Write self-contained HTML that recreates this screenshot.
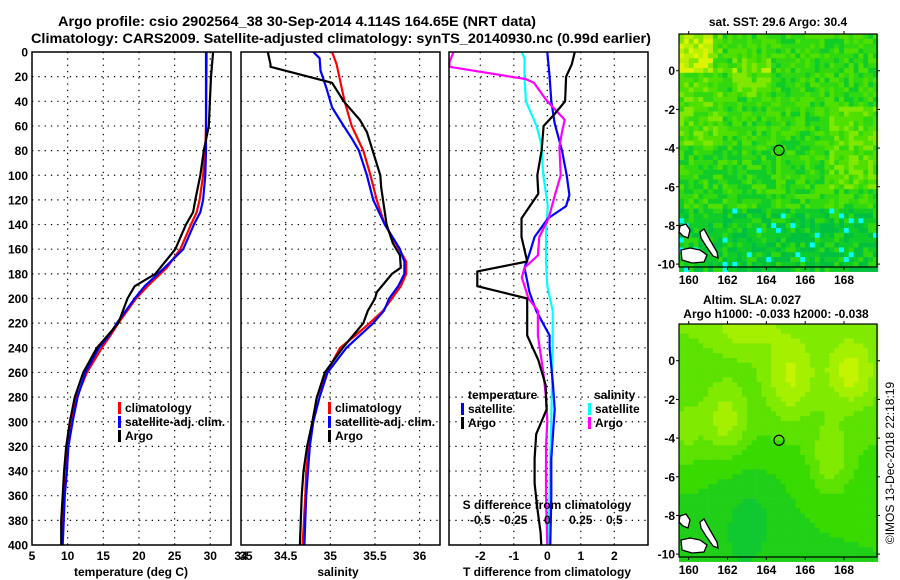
<!DOCTYPE html>
<html><head><meta charset="utf-8">
<style>
html,body{margin:0;padding:0;background:#fff;}
svg{display:block;font-family:"Liberation Sans",sans-serif;font-weight:bold;}
</style></head>
<body>
<svg id="chart" width="900" height="580" viewBox="0 0 900 580" xmlns="http://www.w3.org/2000/svg">
<rect width="900" height="580" fill="#fff"/>
<text x="297" y="26" font-size="14" text-anchor="middle" textLength="478" lengthAdjust="spacingAndGlyphs">Argo profile: csio 2902564_38 30-Sep-2014 4.114S 164.65E (NRT data)</text>
<text x="341" y="43" font-size="14" text-anchor="middle" textLength="620" lengthAdjust="spacingAndGlyphs">Climatology: CARS2009. Satellite-adjusted climatology: synTS_20140930.nc (0.99d earlier)</text>
<g id="g"></g>
</svg>
<script>
// ---- data ----
const tDepth_argo = [0,20,60,80,100,120,130,140,160,175,180,190,200,220,240,260,280,300,320,340,360,380,400];
const temp_argo   = [30.4,30.1,29.8,29.1,28.6,27.9,27.6,26.6,25.1,23.0,22.3,19.4,18.4,17.1,14.1,12.2,11.0,10.3,9.8,9.5,9.3,9.1,9.1];
const tDepth_clim = [0,60,80,100,120,130,140,160,175,190,200,220,230,240,260,280,300,320,340,360,400];
const temp_clim   = [29.5,29.4,29.3,29.0,28.5,28.1,27.3,25.8,23.9,21.2,19.6,17.1,16.0,14.8,12.7,11.3,10.5,9.9,9.6,9.4,9.2];
const temp_sat    = [29.4,29.4,29.4,29.3,29.0,28.6,27.7,26.2,23.6,20.8,19.4,16.9,15.8,14.4,12.5,11.4,10.7,10.1,9.9,9.6,9.3];

const sDepth_argo = [0,10,12,25,40,55,65,100,110,140,155,165,175,180,195,200,210,220,240,260,280,300,320,340,360,380,400];
const sal_argo    = [34.30,34.33,34.33,35.02,35.15,35.33,35.41,35.56,35.57,35.63,35.70,35.78,35.79,35.69,35.52,35.50,35.42,35.37,35.14,34.94,34.85,34.80,34.74,34.70,34.68,34.67,34.66];
const sDepth_clim = [0,10,40,60,80,100,120,140,160,170,180,190,200,210,220,230,240,260,280,300,320,340,360,400];
const sal_clim    = [35.02,35.07,35.16,35.24,35.37,35.45,35.52,35.61,35.77,35.85,35.85,35.79,35.69,35.59,35.44,35.28,35.11,34.96,34.85,34.80,34.76,34.73,34.72,34.69];
const sDepth_sat  = [0,5,15,30,45,60,70,80,100,120,140,160,170,180,190,200,210,220,240,260,280,300,320,360,400];
const sal_sat     = [34.81,34.88,34.89,34.96,35.02,35.15,35.24,35.32,35.41,35.48,35.61,35.78,35.83,35.83,35.76,35.66,35.60,35.48,35.18,34.97,34.88,34.81,34.77,34.73,34.71];

const dDepth_tArgo = [0,10,20,40,50,60,80,100,115,135,150,170,178,190,200,230,250,270,290,310,330,350,370,390,400];
const tdiff_argo   = [0.82,0.73,0.56,0.53,0.23,-0.11,-0.17,-0.30,-0.27,-0.77,-0.77,-0.60,-2.09,-2.09,-0.60,-0.60,-0.27,-0.05,-0.02,-0.33,-0.38,-0.38,-0.30,-0.20,-0.18];
const dDepth_tSat  = [0,20,40,58,80,100,116,125,135,150,165,175,195,210,230,240,270,290,310,330,360,400];
const tdiff_sat    = [0,0.07,0.12,0.22,0.44,0.58,0.66,0.56,0.02,-0.38,-0.55,-0.68,-0.53,-0.33,0.07,0.07,0.17,0.22,0.17,0.12,0.12,0.09];
const dDepth_sSat  = [0,5,20,40,60,75,100,115,125,145,170,190,210,240,300,340,400];
const sdiff_sat    = [-0.19,-0.17,-0.17,-0.16,-0.08,-0.045,-0.03,-0.01,0.004,-0.01,-0.01,0.00,0.04,0.04,0.03,0.02,0.01];
const dDepth_sArgo = [0,8,12,22,25,40,55,65,77,100,115,135,150,165,175,183,200,210,230,260,280,300,320,360,400];
const sdiff_argo   = [-0.70,-0.73,-0.73,-0.16,-0.10,0.00,0.13,0.11,0.09,0.10,0.06,0.01,-0.06,-0.07,-0.17,-0.19,-0.14,-0.07,-0.07,-0.03,-0.01,0.00,-0.01,-0.01,0.00];

const depthTicks = [0,20,40,60,80,100,120,140,160,180,200,220,240,260,280,300,320,340,360,380,400];
const tempTicks = [5,10,15,20,25,30,35];
const salTicks = [34,34.5,35,35.5,36];
const tdTicks = [-2,-1,0,1,2];
const sdTicks = [-0.5,-0.25,0,0.25,0.5];
const lonTicks = [160,162,164,166,168];
const latTicks = [0,-2,-4,-6,-8,-10];
const argoLon = 164.65, argoLat = -4.114;

// ---- helpers ----
const NS="http://www.w3.org/2000/svg";
const G=document.getElementById('g');
function mk(tag,at,parent){const e=document.createElementNS(NS,tag);for(const k in at)e.setAttribute(k,at[k]);(parent||G).appendChild(e);return e;}
const Y0=52,Y1=545;
const yD=d=>Y0+(d/400)*(Y1-Y0);
const P1={x0:32,x1:231,lo:5,hi:5+199/7.13};
const P2={x0:241,x1:440,lo:34,hi:34+199/89.3};
const P3={x0:449,x1:648,lo:(449-547.3)/33.5,hi:(648-547.3)/33.5};
const xs=(P,v)=>P.x0+(v-P.lo)/(P.hi-P.lo)*(P.x1-P.x0);

function panel(P,name){
  const g=mk('g',{});
  
  
  return g;
}
function grid(P,g,xticks,mapfn){
  depthTicks.forEach(d=>{ if(d>0&&d<400){const l=mk('line',{x1:P.x0,x2:P.x1,y1:yD(d),y2:yD(d),stroke:'#000','stroke-width':1.2,'stroke-dasharray':'1.3 5'},g);
    
    }});
  xticks.forEach(v=>{const x=mapfn(v); if(x>P.x0+1&&x<P.x1-1){const l=mk('line',{x1:x,x2:x,y1:Y0,y2:Y1,stroke:'#000','stroke-width':1.2,'stroke-dasharray':'1.3 5'},g);
    
    }});
}
function frame(P,g){
  const r=mk('rect',{x:P.x0,y:Y0,width:P.x1-P.x0,height:Y1-Y0,fill:'none',stroke:'#000','stroke-width':1.5},g);
  
  
}
function line(P,g,depths,vals,color,name,scale){
  const pts=depths.map((d,i)=>xs(P,vals[i]*(scale||1)).toFixed(1)+','+yD(d).toFixed(1)).join(' ');
  const pl=mk('polyline',{points:pts,fill:'none',stroke:color,'stroke-width':2.2,'stroke-linejoin':'round'},g);
  
  
}
function txt(s,x,y,opt,g,name){
  const t=mk('text',Object.assign({x:x,y:y,'font-size':12},opt||{}),g);
  t.textContent=s;
  
  
  return t;
}
function legendEntry(g,x,y,color,label){
  const m=mk('rect',{x:x,y:y-10,width:3,height:12,fill:color},g);
  
  
  txt(label,x+7,y,{'font-size':12},g,'legend-entry');
}

// y-axis labels
const ya=mk('g',{});


depthTicks.forEach(d=>txt(String(d),28,yD(d)+4.5,{'text-anchor':'end','font-size':12},ya,'depth-tick-label'));

// panel 1 temperature
const g1=panel(P1,'temperature-panel');
grid(P1,g1,tempTicks,v=>xs(P1,v));
line(P1,g1,tDepth_clim,temp_clim,'#f00','temp-climatology-line');
line(P1,g1,tDepth_clim,temp_sat,'#00f','temp-satellite-line');
line(P1,g1,tDepth_argo,temp_argo,'#000','temp-argo-line');
frame(P1,g1);
tempTicks.forEach(v=>txt(String(v),xs(P1,v),560,{'text-anchor':'middle'},g1,'temp-tick-label'));
txt('temperature (deg C)',131,576,{'text-anchor':'middle'},g1,'x-axis-title-temperature');
legendEntry(g1,118,412,'#f00','climatology');
legendEntry(g1,118,426,'#00f','satellite-adj. clim.');
legendEntry(g1,118,440,'#000','Argo');

// panel 2 salinity
const g2=panel(P2,'salinity-panel');
grid(P2,g2,salTicks,v=>xs(P2,v));
line(P2,g2,sDepth_clim,sal_clim,'#f00','sal-climatology-line');
line(P2,g2,sDepth_sat,sal_sat,'#00f','sal-satellite-line');
line(P2,g2,sDepth_argo,sal_argo,'#000','sal-argo-line');
frame(P2,g2);
salTicks.forEach(v=>txt(String(v),xs(P2,v),560,{'text-anchor':'middle'},g2,'sal-tick-label'));
txt('salinity',338,576,{'text-anchor':'middle'},g2,'x-axis-title-salinity');
legendEntry(g2,328,412,'#f00','climatology');
legendEntry(g2,328,426,'#00f','satellite-adj. clim.');
legendEntry(g2,328,440,'#000','Argo');

// panel 3 differences
const g3=panel(P3,'difference-panel');
grid(P3,g3,tdTicks,v=>xs(P3,v));
line(P3,g3,dDepth_sSat,sdiff_sat,'#0ff','sdiff-satellite-line',4);
line(P3,g3,dDepth_tSat,tdiff_sat,'#00f','tdiff-satellite-line');
line(P3,g3,dDepth_sArgo,sdiff_argo,'#f0f','sdiff-argo-line',4);
line(P3,g3,dDepth_tArgo,tdiff_argo,'#000','tdiff-argo-line');
frame(P3,g3);
tdTicks.forEach(v=>txt(String(v),xs(P3,v),560,{'text-anchor':'middle'},g3,'tdiff-tick-label'));
sdTicks.forEach(v=>txt(String(v),xs(P3,v*4),524,{'text-anchor':'middle'},g3,'sdiff-tick-label'));
txt('S difference from climatology',547,509,{'text-anchor':'middle'},g3,'sdiff-axis-title');
txt('T difference from climatology',547,576,{'text-anchor':'middle'},g3,'x-axis-title-tdiff');
txt('temperature',468,399,{},g3,'legend-title-temperature');
legendEntry(g3,461,413,'#00f','satellite');
legendEntry(g3,461,427,'#000','Argo');
txt('salinity',594,399,{},g3,'legend-title-salinity');
legendEntry(g3,588,413,'#0ff','satellite');
legendEntry(g3,588,427,'#f0f','Argo');

// ---- maps ----
const LON0=159.5,LON1=169.7,LAT0=1.9,LAT1=-10.15;
function hash(i,j,s){let h=(i*374761393+j*668265263+s*1442695041)|0;h=(h^(h>>>13))*1274126177|0;return ((h^(h>>>16))>>>0)/4294967295;}
function drawMap(top,name,kind){
  const mx0=679,mx1=877,my0=top,my1=top+233;
  const g=mk('g',{});
  
  
  const mX=lon=>mx0+(lon-LON0)/(LON1-LON0)*(mx1-mx0);
  const mY=lat=>my0+(lat-LAT0)/(LAT1-LAT0)*(my1-my0);
  const cells=mk('g',{},g);
  
  
  if(kind==='sst'){
    const pal=['#00c040','#10cc28','#30d810','#50e000','#80e800','#b8f000','#dcf400'];
    const cw=4.85;
    const nx=Math.ceil((mx1-mx0)/cw), ny=Math.ceil((my1-my0)/cw);
    for(let j=0;j<ny;j++)for(let i=0;i<nx;i++){
      const u=i/nx,v=j/ny;
      let base=2.2+(v<0.15&&u<0.15?2:0)+(v<0.45&&u<0.2?0.8:0)+(v>0.1&&v<0.25&&u>0.25&&u<0.45?1.2:0)+(u>0.75&&v>0.3&&v<0.65?1.0:0)-(v>0.72?1.3:0)-(v>0.45&&v<0.7&&u<0.6?0.4:0);
      if(v>0.72&&hash(i,j,7)>0.95){mk('rect',{x:mx0+i*cw,y:my0+j*cw,width:cw+0.3,height:cw+0.3,fill:'#00ffff'},cells);continue;}
      const val=base+(hash(i,j,1)-0.5)*2.4;
      const k=Math.max(0,Math.min(pal.length-1,Math.round(val)));
      mk('rect',{x:(mx0+i*cw).toFixed(2),y:(my0+j*cw).toFixed(2),width:cw+0.3,height:cw+0.3,fill:pal[k]},cells);
    }
  }else{
    const pal=['#10c830','#20d018','#38da00','#5ce200','#80ea00','#a4f000','#c4f400','#dcf800'];
    const cw=4.85;
    const nx=Math.ceil((mx1-mx0)/cw), ny=Math.ceil((my1-my0)/cw);
    const b=(x,y,cx,cy,sx,sy)=>Math.exp(-((x-cx)*(x-cx)/sx+(y-cy)*(y-cy)/sy));
    for(let j=0;j<ny;j++)for(let i=0;i<nx;i++){
      const u=i/nx,v=j/ny;
      let val=3.6-3.0*v+0.8*u*v
        +2.6*b(u,v,0.55,0.22,0.015,0.03)+2.8*b(u,v,0.85,0.2,0.015,0.02)+2.6*b(u,v,0.22,0.4,0.012,0.02)
        +2.2*b(u,v,0.75,0.55,0.008,0.02)+1.5*b(u,v,0.02,0.45,0.008,0.02)+1.8*b(u,v,0.32,0.0,0.02,0.01)
        -1.2*b(u,v,0.35,0.78,0.03,0.04);
      const k=Math.max(0,Math.min(pal.length-1,Math.round(val)));
      mk('rect',{x:(mx0+i*cw).toFixed(2),y:(my0+j*cw).toFixed(2),width:cw+0.3,height:cw+0.3,fill:pal[k]},cells);
    }
  }
  // islands
  const isl=[
    [[700,232],[704,229],[710,240],[717,252],[718,258],[713,256],[706,246],[701,238]],
    [[681,250],[690,248],[700,250],[707,255],[704,262],[692,263],[682,260]],
    [[680,226],[686,224],[690,230],[688,238],[683,236],[679,232]]
  ];
  isl.forEach(p=>{
    const poly=mk('polygon',{points:p.map(q=>q[0]+','+(q[1]+top-34)).join(' '),fill:'#fff',stroke:'#000','stroke-width':1.3},g);
    
    
  });
  const c=mk('circle',{cx:mX(argoLon),cy:mY(argoLat),r:5,fill:'none',stroke:'#000','stroke-width':1.2},g);
  
  
  const f=mk('rect',{x:mx0,y:my0,width:mx1-mx0,height:my1-my0,fill:'none',stroke:'#000','stroke-width':1.2},g);
  
  
  lonTicks.forEach(l=>{
    mk('line',{x1:mX(l),x2:mX(l),y1:my0,y2:my0-3,stroke:'#000'},g);
    mk('line',{x1:mX(l),x2:mX(l),y1:my1,y2:my1+3,stroke:'#000'},g);
    txt(String(l),mX(l),my1+17,{'text-anchor':'middle','font-size':12},g,'lon-tick-label');
  });
  latTicks.forEach(l=>{
    mk('line',{x1:mx0,x2:mx0-3,y1:mY(l),y2:mY(l),stroke:'#000'},g);
    mk('line',{x1:mx1,x2:mx1+3,y1:mY(l),y2:mY(l),stroke:'#000'},g);
    txt(String(l),675,mY(l)+4.5,{'text-anchor':'end','font-size':12},g,'lat-tick-label');
  });
}
drawMap(34,'sst-map','sst');
drawMap(324,'sla-map','sla');
txt('sat. SST: 29.6 Argo: 30.4',778,26,{'text-anchor':'middle'},null,'sst-map-title');
txt('Altim. SLA: 0.027',752,304,{'text-anchor':'middle'},null,'sla-map-title');
txt('Argo h1000: -0.033 h2000: -0.038',776,318,{'text-anchor':'middle'},null,'sla-map-subtitle');
txt('©IMOS 13-Dec-2018 22:18:19',0,0,{'text-anchor':'middle','font-weight':'normal','font-size':12,transform:'translate(894,463) rotate(-90)'},null,'copyright-label');
</script>
</body></html>
